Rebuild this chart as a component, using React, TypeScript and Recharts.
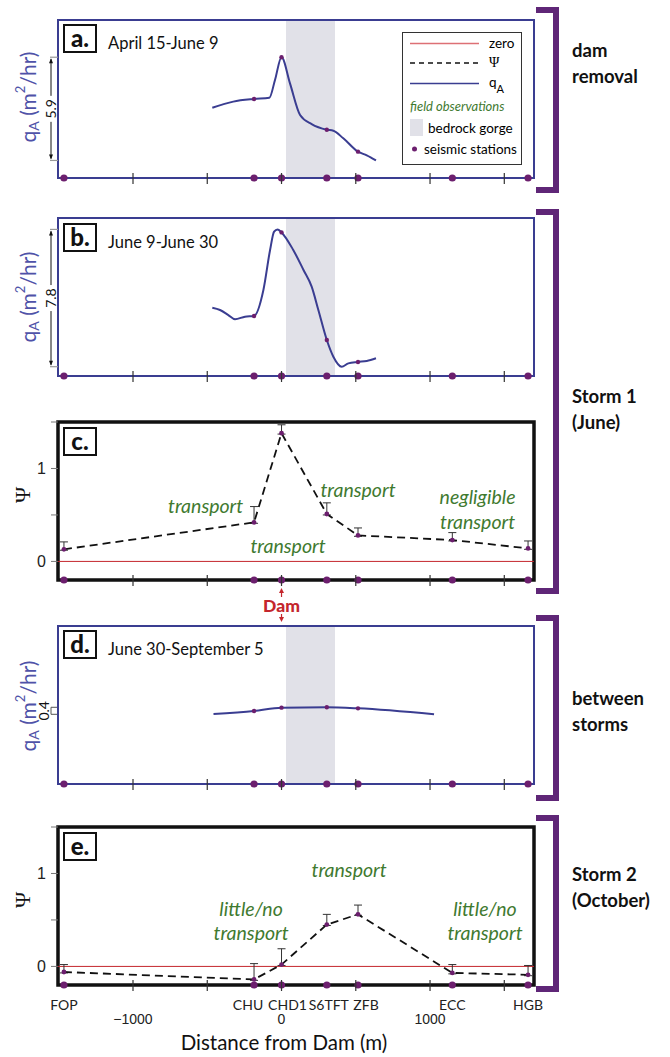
import React from 'react';
import {
  ComposedChart,
  Line,
  Scatter,
  XAxis,
  YAxis,
  ReferenceArea,
  ReferenceLine,
  ReferenceDot,
  ErrorBar,
} from 'recharts';

// seismic stations, distance from dam (m)
const stationNames = ['FOP', 'CHU', 'CHD1', 'S6TFT', 'ZFB', 'ECC', 'HGB'];
const stationDist = [-1465, -185, 0, 305, 515, 1150, 1660];
const xTicks = [-1000, -500, 0, 500, 1000, 1500];
const xNumberLabels = [-1000, 0, 1000];
const gorgeStart = 30;
const gorgeEnd = 360;

// a. April 15-June 9, qA (m2/hr)
const aDist = [-466, -325, -185, -82, -44, 0, 57, 125, 203, 305, 349, 416, 515, 574, 636];
const aQ = [4.0, 4.35, 4.5, 4.57, 5.58, 6.88, 5.39, 3.59, 3.07, 2.75, 2.69, 2.26, 1.5, 1.29, 1.0];

// b. June 9-June 30
const bDist = [-466, -414, -358, -313, -246, -185, -122, -77, -50, -27, 0, 79, 148, 203, 248, 305, 349, 405, 450, 515, 574, 636];
const bQ = [3.89, 3.76, 3.47, 3.23, 3.38, 3.42, 4.9, 7.18, 8.22, 8.35, 8.18, 7.18, 6.04, 5.09, 3.76, 2.05, 1.1, 0.53, 0.72, 0.8, 0.86, 1.01];

// d. June 30-September 5
const dDist = [-458, -185, 0, 305, 515, 1027];
const dQ = [3.99, 4.16, 4.35, 4.37, 4.31, 3.97];

// Psi at each station, with upper error
const psiStorm1 = [0.13, 0.42, 1.38, 0.51, 0.28, 0.23, 0.14];
const psiStorm1Err = [0.08, 0.17, 0.09, 0.12, 0.08, 0.08, 0.08];
const psiStorm2 = [-0.06, -0.14, 0.02, 0.45, 0.56, -0.07, -0.09];
const psiStorm2Err = [0.08, 0.17, 0.17, 0.11, 0.1, 0.09, 0.1];

// field observations
const storm1Notes = [
  { x: -511, y: 0.6, text: 'transport' },
  { x: 44, y: 0.17, text: 'transport' },
  { x: 515, y: 0.77, text: 'transport' },
  { x: 1320, y: 0.7, text: 'negligible' },
  { x: 1320, y: 0.43, text: 'transport' },
];
const storm2Notes = [
  { x: 455, y: 1.04, text: 'transport' },
  { x: -205, y: 0.62, text: 'little/no' },
  { x: -205, y: 0.36, text: 'transport' },
  { x: 1370, y: 0.62, text: 'little/no' },
  { x: 1370, y: 0.36, text: 'transport' },
];

const W = 670;
const PLOT_LEFT = 58;
const PLOT_RIGHT = 534;
const PLOT_H = 158;
const PAD = 6;
const X_DOMAIN: [number, number] = [-1505, 1700];
const Q_DOMAIN: [number, number] = [0, 9];
const PSI_DOMAIN: [number, number] = [-0.2, 1.5];

const BLUE = '#3a3d91';
const LABEL_BLUE = '#4f52a8';
const PURPLE = '#6c1f6e';
const BRACKET = '#5f2677';
const GREEN = '#3f7a30';
const RED = '#c4262d';
const GORGE = '#e1e1e8';
const SANS = 'Lato, "Open Sans", sans-serif';
const ARIAL = '"Liberation Sans", Arial, sans-serif';
const SERIF = '"Liberation Serif", "DejaVu Serif", serif';

const nameShift = [0, -6, 6, 2, 8, 0, 0];

function DamMark({ x, y }: any) {
  return (
    <g fill={RED} stroke={RED}>
      <line x1={x} x2={x} y1={y + 12} y2={y + 17} strokeWidth={1.2} />
      <path d={`M${x - 2.5},${y + 13} L${x},${y + 8} L${x + 2.5},${y + 13} Z`} stroke="none" />
      <text x={x} y={y + 25} textAnchor="middle" dominantBaseline="central" stroke="none"
        fontFamily={SANS} fontWeight={900} fontSize={17.5}>Dam</text>
      <line x1={x} x2={x} y1={y + 34} y2={y + 38} strokeWidth={1.2} />
      <path d={`M${x - 2.5},${y + 37} L${x},${y + 42} L${x + 2.5},${y + 37} Z`} stroke="none" />
    </g>
  );
}

function AxisTick(props: any) {
  const { x, y, payload, mode } = props;
  const v = payload.value;
  const si = stationDist.indexOf(v);
  return (
    <g>
      {xTicks.includes(v) && <line x1={x} x2={x} y1={y - 5} y2={y + 6} stroke="#333" strokeWidth={1.2} />}
      {mode === 'dam' && v === 0 && <DamMark x={x} y={y} />}
      {mode === 'full' && xNumberLabels.includes(v) && (
        <text x={x} y={y + 34} textAnchor="middle" dominantBaseline="central" fontFamily={ARIAL} fontSize={14} fill="#222">
          {v < 0 ? `\u2212${-v}` : v}
        </text>
      )}
      {mode === 'full' && si >= 0 && (
        <text x={x + nameShift[si]} y={y + 19} textAnchor="middle" dominantBaseline="central" fontFamily={SANS} fontSize={14} fill="#222">
          {stationNames[si]}
        </text>
      )}
    </g>
  );
}

function ScaleBar(props: any) {
  const { x1, y1, y2, label } = props;
  const top = Math.min(y1, y2);
  const bot = Math.max(y1, y2);
  const mid = (top + bot) / 2;
  const x = x1 - 7;
  if (bot - top < 20) {
    return (
      <g>
        <path d={`M${x1 - 1},${top} H${x} V${bot} H${x1 - 1}`} fill="none" stroke="#555" strokeWidth={1} />
        <text transform={`translate(${x - 8},${mid}) rotate(-90)`} textAnchor="middle" dominantBaseline="central"
          fontFamily={SANS} fontSize={14} fill="#111">{label}</text>
      </g>
    );
  }
  return (
    <g>
      <line x1={x - 1} x2={x1} y1={top} y2={top} stroke="#999" strokeWidth={1.2} />
      <line x1={x - 1} x2={x1} y1={bot} y2={bot} stroke="#999" strokeWidth={1.2} />
      <line x1={x} x2={x} y1={top + 2} y2={mid - 13} stroke="#111" strokeWidth={1} />
      <line x1={x} x2={x} y1={mid + 13} y2={bot - 2} stroke="#111" strokeWidth={1} />
      <path d={`M${x - 2},${top + 6} L${x},${top + 1} L${x + 2},${top + 6} Z`} fill="#111" />
      <path d={`M${x - 2},${bot - 6} L${x},${bot - 1} L${x + 2},${bot - 6} Z`} fill="#111" />
      <text transform={`translate(${x - 1},${mid}) rotate(-90)`} textAnchor="middle" dominantBaseline="central"
        fontFamily={SANS} fontSize={14} fill="#111">{label}</text>
    </g>
  );
}

const bigDot = (p: any) => <circle cx={p.cx} cy={p.cy} r={3.6} fill={PURPLE} />;
const smallDot = (p: any) => <circle cx={p.cx} cy={p.cy} r={2.2} fill={PURPLE} />;

function QPanel({ top, dist, q, scaleLabel }: any) {
  const curve = dist.map((x: number, i: number) => ({ x, y: q[i] }));
  const onCurve = curve.filter((p: any) => stationDist.includes(p.x));
  const stations = stationDist.map((x) => ({ x, y: Q_DOMAIN[0] }));
  const qMin = Math.min(...q);
  const qMax = Math.max(...q);
  return (
    <div style={{ position: 'absolute', left: 0, top: top - PAD }}>
      <ComposedChart width={W} height={PAD + PLOT_H + 12}
        margin={{ top: PAD, right: W - PLOT_RIGHT, bottom: 0, left: PLOT_LEFT }}>
        <XAxis type="number" dataKey="x" domain={X_DOMAIN} ticks={xTicks} interval={0}
          axisLine={false} tickLine={false} tickSize={0} tickMargin={0} height={12}
          tick={(p: any) => <AxisTick {...p} mode="plain" />} />
        <YAxis type="number" dataKey="y" domain={Q_DOMAIN} hide />
        <ReferenceArea x1={gorgeStart} x2={gorgeEnd} y1={Q_DOMAIN[0]} y2={Q_DOMAIN[1]} fill={GORGE} fillOpacity={1} stroke="none" />
        <ReferenceArea x1={X_DOMAIN[0]} x2={X_DOMAIN[1]} y1={Q_DOMAIN[0]} y2={Q_DOMAIN[1]} fill="none"
          stroke={BLUE} strokeWidth={2} ifOverflow="visible" />
        <ReferenceLine ifOverflow="visible"
          segment={[{ x: X_DOMAIN[0], y: qMin }, { x: X_DOMAIN[0], y: qMax }]}
          shape={(p: any) => <ScaleBar {...p} label={scaleLabel} />} />
        <Line data={curve} dataKey="y" type="monotone" stroke={BLUE} strokeWidth={2} dot={false}
          activeDot={false} isAnimationActive={false} />
        <Scatter data={onCurve} dataKey="y" shape={smallDot} isAnimationActive={false} />
        <Scatter data={stations} dataKey="y" shape={bigDot} isAnimationActive={false} />
      </ComposedChart>
    </div>
  );
}

function PsiPanel({ top, psi, err, notes, mode }: any) {
  const data = stationDist.map((x, i) => ({ x, y: psi[i], err: [0.01, err[i]] }));
  const stations = stationDist.map((x) => ({ x, y: PSI_DOMAIN[0] }));
  const axisH = mode === 'full' ? 70 : 45;
  const ticks = mode === 'full' ? Array.from(new Set([...xTicks, ...stationDist])).sort((a, b) => a - b) : xTicks;
  return (
    <div style={{ position: 'absolute', left: 0, top: top - PAD }}>
      <ComposedChart width={W} height={PAD + PLOT_H + axisH}
        margin={{ top: PAD, right: W - PLOT_RIGHT, bottom: 0, left: PLOT_LEFT - 30 }}>
        <XAxis type="number" dataKey="x" domain={X_DOMAIN} ticks={ticks} interval={0}
          axisLine={false} tickLine={false} tickSize={0} tickMargin={0} height={axisH}
          tick={(p: any) => <AxisTick {...p} mode={mode} />} />
        <YAxis type="number" dataKey="y" domain={PSI_DOMAIN} width={30}
          ticks={[0, 0.5, 1, 1.5]} interval={0} tickFormatter={(v: number) => (v === 0 || v === 1 ? String(v) : '')}
          axisLine={false} tickLine={{ stroke: '#777', strokeWidth: 1 }} tickSize={7} tickMargin={5}
          tick={{ fontFamily: ARIAL, fontSize: 16, fill: '#222' }} />
        <ReferenceLine y={0} stroke={RED} strokeWidth={1} />
        {notes.map((n: any, i: number) => (
          <ReferenceDot key={i} x={n.x} y={n.y} r={0} ifOverflow="visible"
            shape={(p: any) => (
              <text x={p.cx} y={p.cy} textAnchor="middle" dominantBaseline="central" fontFamily={SANS}
                fontStyle="italic" fontSize={19.5} fill={GREEN}>{n.text}</text>
            )} />
        ))}
        <Line data={data} dataKey="y" type="linear" stroke="#111" strokeWidth={1.8} strokeDasharray="8 5"
          dot={{ r: 2.4, fill: PURPLE, stroke: PURPLE, strokeWidth: 0 }} activeDot={false} isAnimationActive={false}>
          <ErrorBar dataKey="err" direction="y" width={4} stroke="#333" strokeWidth={1} isAnimationActive={false} />
        </Line>
        <ReferenceArea x1={X_DOMAIN[0]} x2={X_DOMAIN[1]} y1={PSI_DOMAIN[0]} y2={PSI_DOMAIN[1]} fill="none"
          stroke="#111" strokeWidth={3.5} ifOverflow="visible" />
        <Scatter data={stations} dataKey="y" shape={bigDot} isAnimationActive={false} />
      </ComposedChart>
    </div>
  );
}

function PanelTag({ top, letter, title }: any) {
  return (
    <>
      <div style={{
        position: 'absolute', left: 63, top, width: 34, height: 29, boxSizing: 'border-box',
        border: '2px solid #111', background: '#fff', textAlign: 'center', lineHeight: '24px',
        fontFamily: SANS, fontWeight: 900, fontSize: 24, color: '#111',
      }}>{letter}</div>
      {title && (
        <div style={{ position: 'absolute', left: 108, top: top + 9, lineHeight: '20px', fontFamily: SANS, fontSize: 16.5, color: '#111', whiteSpace: 'nowrap' }}>
          {title}
        </div>
      )}
    </>
  );
}

function Bracket({ top, bottom }: any) {
  return (
    <div style={{
      position: 'absolute', left: 536, top, width: 23, height: bottom - top, boxSizing: 'border-box',
      borderTop: `6px solid ${BRACKET}`, borderRight: `6px solid ${BRACKET}`, borderBottom: `6px solid ${BRACKET}`,
    }} />
  );
}

function SideLabel({ top, lines }: any) {
  return (
    <div style={{ position: 'absolute', left: 572, top, lineHeight: '26px', fontFamily: SANS, fontWeight: 700, fontSize: 18.5, color: '#111', whiteSpace: 'nowrap' }}>
      {lines.map((l: string) => <div key={l}>{l}</div>)}
    </div>
  );
}

function Legend() {
  return (
    <div style={{
      position: 'absolute', left: 402, top: 32, width: 120, height: 133, boxSizing: 'border-box',
      border: '1.3px solid #333', background: '#fff',
    }}>
      <svg width={120} height={133} style={{ position: 'absolute', left: -1, top: -1 }}>
        <line x1={8} x2={77} y1={11.5} y2={11.5} stroke="#dd7075" strokeWidth={1.3} />
        <line x1={8} x2={77} y1={31} y2={31} stroke="#111" strokeWidth={1.5} strokeDasharray="5 4" />
        <line x1={8} x2={77} y1={51.5} y2={51.5} stroke={BLUE} strokeWidth={1.5} />
        <rect x={8} y={87} width={13} height={17} fill={GORGE} />
        <circle cx={12.5} cy={117} r={2.5} fill={PURPLE} />
        <text x={87} y={11} dominantBaseline="central" fontFamily={SANS} fontSize={13.5}>zero</text>
        <text x={87} y={30} dominantBaseline="central" fontFamily={SERIF} fontSize={14}>Ψ</text>
        <text x={87} y={50} dominantBaseline="central" fontFamily={SANS} fontSize={13.5}>q<tspan dy={6} fontSize={11}>A</tspan></text>
        <text x={8} y={74} dominantBaseline="central" fontFamily={SANS} fontStyle="italic" fontSize={13} fill={GREEN}>field observations</text>
        <text x={26} y={96} dominantBaseline="central" fontFamily={SANS} fontSize={13.5}>bedrock gorge</text>
        <text x={22} y={117} dominantBaseline="central" fontFamily={SANS} fontSize={13.5}>seismic stations</text>
      </svg>
    </div>
  );
}

function QLabel({ cy }: any) {
  return (
    <text transform={`translate(27,${cy}) rotate(-90)`} textAnchor="middle" dominantBaseline="central"
      fontFamily={SANS} fontSize={21} fill={LABEL_BLUE}>
      q<tspan dy={6} fontSize={14}>A</tspan><tspan dy={-6}> (m</tspan><tspan dy={-7} fontSize={13}>2</tspan><tspan dy={7}>/hr)</tspan>
    </text>
  );
}

export default function App() {
  return (
    <div style={{ position: 'absolute', left: 0, top: 0, width: W, height: 1057, background: '#fff', overflow: 'hidden' }}>
      <QPanel top={20} dist={aDist} q={aQ} scaleLabel="5.9" />
      <QPanel top={218} dist={bDist} q={bQ} scaleLabel="7.8" />
      <PsiPanel top={422} psi={psiStorm1} err={psiStorm1Err} notes={storm1Notes} mode="dam" />
      <QPanel top={626} dist={dDist} q={dQ} scaleLabel="0.4" />
      <PsiPanel top={827} psi={psiStorm2} err={psiStorm2Err} notes={storm2Notes} mode="full" />

      <svg width={W} height={1057} style={{ position: 'absolute', left: 0, top: 0, pointerEvents: 'none' }}>
        <QLabel cy={97} />
        <QLabel cy={297} />
        <QLabel cy={706} />
        <text transform="translate(22,495) rotate(-90)" textAnchor="middle" dominantBaseline="central" fontFamily={SERIF} fontSize={22} fill="#111">Ψ</text>
        <text transform="translate(22,900) rotate(-90)" textAnchor="middle" dominantBaseline="central" fontFamily={SERIF} fontSize={22} fill="#111">Ψ</text>
      </svg>

      <PanelTag top={24} letter="a." title="April 15-June 9" />
      <PanelTag top={223} letter="b." title="June 9-June 30" />
      <PanelTag top={427} letter="c." />
      <PanelTag top={630} letter="d." title="June 30-September 5" />
      <PanelTag top={832} letter="e." />

      <Legend />

      <div style={{ position: 'absolute', left: 174, width: 220, top: 1030, textAlign: 'center', fontFamily: SANS, fontSize: 20.5, color: '#111', whiteSpace: 'nowrap' }}>
        Distance from Dam (m)
      </div>

      <Bracket top={7} bottom={193} />
      <Bracket top={209} bottom={594} />
      <Bracket top={615} bottom={801} />
      <Bracket top={815} bottom={992} />
      <SideLabel top={37} lines={['dam', 'removal']} />
      <SideLabel top={383} lines={['Storm 1', '(June)']} />
      <SideLabel top={685} lines={['between', 'storms']} />
      <SideLabel top={861} lines={['Storm 2', '(October)']} />
    </div>
  );
}
